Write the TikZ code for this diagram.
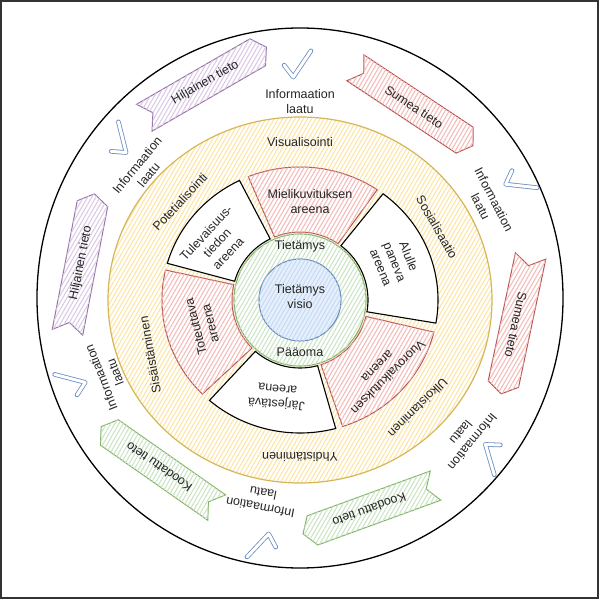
\documentclass[tikz,border=0pt]{standalone}
\usepackage{fontspec}
\setmainfont{Liberation Sans}
\usetikzlibrary{patterns.meta}
\definecolor{ylwS}{HTML}{D6B656}
\definecolor{ylwH}{HTML}{FCE6A6}
\definecolor{redS}{HTML}{B85450}
\definecolor{redH}{HTML}{F4BDBA}
\definecolor{grnS}{HTML}{82B366}
\definecolor{grnH}{HTML}{CDE5C6}
\definecolor{bluS}{HTML}{6C8EBF}
\definecolor{bluH}{HTML}{C5DBF4}
\definecolor{bluF}{HTML}{E6EFFB}
\definecolor{purS}{HTML}{9673A6}
\definecolor{purH}{HTML}{DCCBE5}
\definecolor{frameC}{HTML}{333333}
\tikzset{
  hatch/.style={fill=white, postaction={pattern={Lines[angle=60,distance=3.6pt,line width=1.1pt]}, pattern color=#1}},
  lbl/.style={font=\fontsize{12.5}{15}\selectfont, align=center, inner sep=0pt, text=black!85},
  redsec/.style={hatch=redH, draw=redS, line width=1pt},
  whtsec/.style={fill=white, draw=black, line width=1.1pt},
  chk/.style={draw=bluS, line width=0.8pt, double=white, double distance=3pt, line join=round, line cap=round},
  ribP/.style={hatch=purH, draw=purS, line width=1pt},
  ribR/.style={hatch=redH, draw=redS, line width=1pt},
  ribG/.style={hatch=grnH, draw=grnS, line width=1pt}
}
\newcommand\arena[3]{\path[#3] (#1:68pt) -- (#1:138pt and 133pt) arc[start angle=#1, end angle=#2, x radius=138pt, y radius=133pt] -- (#2:68pt) arc[start angle=#2, end angle=#1, radius=68pt] -- cycle;}
\newcommand\ribbon[6]{%
\begin{scope}[shift={(#1,#2)}, rotate=#3]
\path[#4] (-65.5,-15.5) -- (65.5,-15.5) -- (75.5,0) -- (65.5,15.5) -- (-65.5,15.5) -- (-55.5,0) -- cycle;
\node[lbl, transform shape] (#5) at (5,0) {#6};
\end{scope}}
\newcommand\tick[2]{\draw[chk, shift={(#1:#2pt)}, rotate=#1-90] (-13,0) -- (-4,-12) -- (14,14);}
\begin{document}
\begin{tikzpicture}[x=1pt,y=1pt]
\useasboundingbox (-300,-301) rectangle (301,300);
\fill[white] (-300,-301) rectangle (301,300);
\draw[frameC, line width=1.2pt] (-299,-298) rectangle (298,299);
% outer circle
\draw[black, line width=1.3pt] (0,2) ellipse [x radius=263pt, y radius=270pt];
% yellow disk
\path[hatch=ylwH] (0,0) ellipse [x radius=192pt, y radius=183pt];
\draw[ylwS, line width=1.2pt] (0,0) ellipse [x radius=192pt, y radius=183pt];
% arenas
\arena{-10}{53}{whtsec}
\arena{56}{112}{redsec}
\arena{116}{164}{whtsec}
\arena{167}{225}{redsec}
\arena{229}{285}{whtsec}
\arena{288}{346}{redsec}
% green and blue disks
\path[hatch=grnH, draw=grnS, line width=1.1pt] (0,0) circle [radius=66pt];
\path[fill=bluF, postaction={pattern={Lines[angle=60,distance=3.6pt,line width=1pt]}, pattern color=bluH}, draw=bluS, line width=1.1pt] (0,0) circle [radius=41pt];
% centre texts
\node[lbl] (tm) at (0,54) {Tietämys};
\node[lbl] (pa) at (0,-52) {Pääoma};
\node[lbl] (tv) at (0,3) {Tietämys\\visio};
% arena texts
\node[lbl] (a1) at (10,98) {Mielikuvituksen\\areena};
\node[lbl, rotate=-68] (a2) at (95,38) {Alulle\\paneva\\areena};
\node[lbl, rotate=-135] (a3) at (83,-72) {Vuorovaikutuksen\\areena};
\node[lbl, rotate=175] (a4) at (-23,-97) {Järjestävä\\areena};
\node[lbl, rotate=104] (a5) at (-97,-25) {Toteuttava\\areena};
\node[lbl, rotate=47] (a6) at (-83,57) {Tulevaisuus-\\tiedon\\areena};
% yellow ring texts
\node[lbl] (visu) at (0,158) {Visualisointi};
\node[lbl, rotate=-60] (sosi) at (137,73) {Sosialisaatio};
\node[lbl, rotate=-135] (ulko) at (118,-108) {Ulkoistaminen};
\node[lbl, rotate=180] (yhd) at (0,-157) {Yhdistäminen};
\node[lbl, rotate=100] (sisa) at (-150,-55) {Sisäistäminen};
\node[lbl, rotate=47] (pote) at (-120,98) {Potetialisointi};
% Informaation laatu labels
\node[lbl] (q1) at (90:198pt) {Informaation\\laatu};
\node[lbl, rotate=-62.6] (q2) at (27.4:211pt) {Informaation\\laatu};
\node[lbl, rotate=-129.4] (q3) at (-39.4:216pt) {Informaation\\laatu};
\node[lbl, rotate=-190.8] (q4) at (-100.8:204pt) {Informaation\\laatu};
\node[lbl, rotate=111.3] (q5) at (201.3:206pt) {Informaation\\laatu};
\node[lbl, rotate=50.4] (q6) at (140.4:204pt) {Informaation\\laatu};
% check marks
\tick{90.7}{235}
\tick{28.4}{248}
\tick{-38.9}{247}
\tick{-98.6}{248}
\tick{200}{242}
\tick{138.7}{240}
% ribbons
\ribbon{-99}{215}{30}{ribP}{r1}{Hiljainen tieto}
\ribbon{110}{196}{-33.5}{ribR}{r2}{Sumea tieto}
\ribbon{217}{-20}{-102}{ribR}{r3}{Sumea tieto}
\ribbon{74}{-208}{-160}{ribG}{r4}{Koodattu tieto}
\ribbon{-137}{-170}{145}{ribG}{r5}{Koodattu tieto}
\ribbon{-220}{32}{79}{ribP}{r6}{Hiljainen tieto}
\end{tikzpicture}
\end{document}
